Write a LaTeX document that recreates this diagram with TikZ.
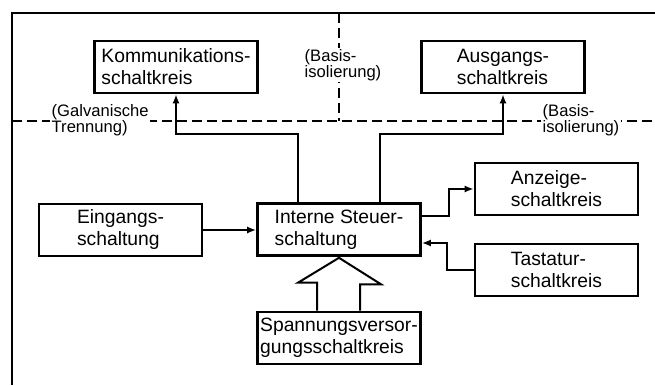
\documentclass[tikz,border=0pt]{standalone}
\usepackage{fontspec}
\setmainfont{Liberation Sans}
\usetikzlibrary{arrows.meta}
\begin{document}
\begin{tikzpicture}[x=1pt,y=-1pt,
  blk/.style={draw,line width=2.6pt,rectangle,minimum width=163pt,minimum height=52pt,inner sep=0pt,align=left,font=\fontsize{19.3}{22}\selectfont},
  lbl/.style={fill=white,inner sep=1.5pt,align=left,anchor=west,font=\fontsize{16.6}{14.5}\selectfont},
  conn/.style={line width=2pt},
  arr/.style={conn,-{Latex[length=9pt,width=7pt]}},
  iso/.style={line width=2pt,dash pattern=on 10pt off 5pt}]
\useasboundingbox (0,0) rectangle (655,385);
% frame
\draw[line width=2.6pt] (12,385) -- (12,13) -- (655,13);
% isolation lines
\draw[iso] (12,121) -- (655,121);
\draw[iso] (339,13) -- (339,121);
% labels
\node[lbl] (galv) at (50,120) {(Galvanische\\Trennung)};
\node[lbl] (bas1) at (303,65) {(Basis-\\isolierung)};
\node[lbl] (bas2) at (541,120) {(Basis-\\isolierung)};
% blocks
\node[blk] (komm) at (176,67) {Kommunikations-\\schaltkreis};
\node[blk] (ausg) at (503,67) {Ausgangs-\\schaltkreis};
\node[blk] (ein) at (120.5,230) {Eingangs-\\schaltung};
\node[blk] (int) at (339,229.5) {Interne Steuer-\\schaltung};
\node[blk] (anz) at (556.5,189) {Anzeige-\\schaltkreis};
\node[blk] (tast) at (556.5,270) {Tastatur-\\schaltkreis};
\node[blk] (spann) at (339,338) {Spannungsversor-\\gungsschaltkreis};
% connectors
\draw[arr] ([xshift=-41pt]int.north) -- ++(0,-68) -| (komm.south);
\draw[arr,line width=2.5pt] ([xshift=41pt]int.north) -- ++(0,-68) -| (ausg.south);
\draw[arr] (ein.east) -- (ein.east -| int.west);
\draw[arr] ([yshift=13.5pt]int.east) -- ++(27,0) |- (anz.west);
\draw[arr] (tast.west) -- ++(-27,0) |- ([yshift=-13.5pt]int.east);
% hollow power arrow
\draw[line width=2pt,fill=white,line join=miter]
  ([xshift=-22pt]spann.north) -- ++(0,-28) -- ++(-19,0) -- ([yshift=-1pt]int.south)
  -- ([xshift=42pt,yshift=-27.5pt]int.south) -- ++(-21,0) -- ([xshift=21pt]spann.north);
\end{tikzpicture}
\end{document}
